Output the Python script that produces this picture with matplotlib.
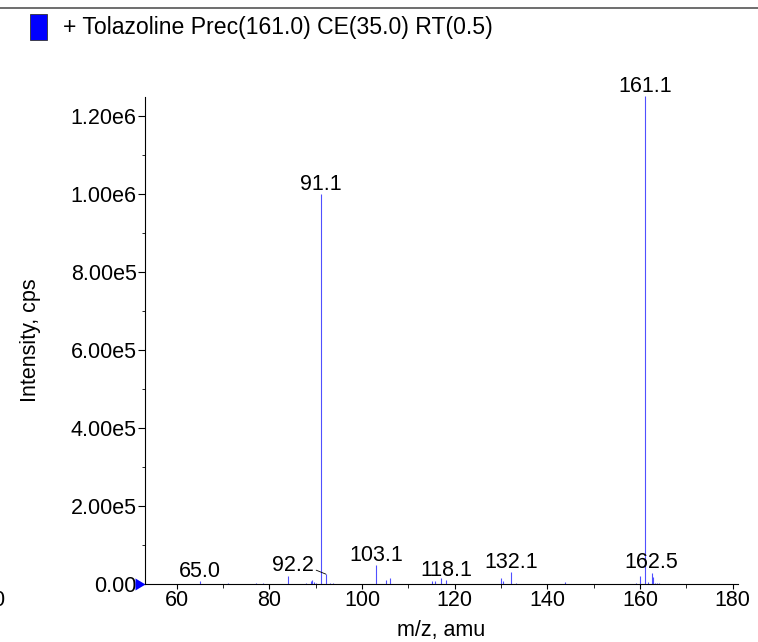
import matplotlib
matplotlib.use('Agg')
import matplotlib.pyplot as plt
from matplotlib.path import Path
from matplotlib.patches import Rectangle
from matplotlib.lines import Line2D
import numpy as np

plt.rcParams['font.family'] = ['Liberation Sans', 'DejaVu Sans']

# spectrum peaks (m/z, intensity in cps)
mz = [65.0, 71.0, 77.2, 78.7, 84.0, 86.0, 88.0, 88.9, 89.2, 89.7, 90.0,
      91.1, 92.2, 93.0, 93.8, 96.1, 103.1, 105.1, 106.1,
      115.2, 115.8, 117.1, 118.1, 130.1, 130.4, 132.1, 133.2, 134.1,
      143.9, 159.1, 160.1, 161.1, 161.8, 162.5, 162.8, 163.3, 163.7,
      164.1, 164.6, 165.0, 166.0, 168.0, 169.2, 170.3]
intensity = [9000, 3000, 3000, 3500, 20000, 2000, 4500, 8000, 10000, 7000, 4000,
             1.0e6, 26000, 3000, 2500, 2000, 49000, 10000, 17000,
             8000, 8000, 16000, 11000, 16000, 8000, 31000, 4000, 2000,
             5000, 3000, 20000, 1.25e6, 6000, 30000, 19000, 4000, 3000,
             2500, 2000, 1500, 1000, 1000, 1500, 1000]

# labelled peaks
label_mz = [65.0, 91.1, 103.1, 118.1, 132.1, 161.1, 162.5]
label_txt = ['65.0', '91.1', '103.1', '118.1', '132.1', '161.1', '162.5']

y_ticks = [0, 2e5, 4e5, 6e5, 8e5, 1.0e6, 1.2e6]
y_tick_labels = ['0.00', '2.00e5', '4.00e5', '6.00e5', '8.00e5', '1.00e6', '1.20e6']
x_ticks = [60, 80, 100, 120, 140, 160, 180]

legend_text = '+ Tolazoline Prec(161.0) CE(35.0) RT(0.5)'

W, H = 758, 642
fig = plt.figure(figsize=(W / 100, H / 100), dpi=100)
ax = fig.add_axes([145 / W, 1 - 584.3 / H, (738 - 145) / W, (584.3 - 97) / H])

ax.vlines(mz, 0, intensity, colors='#5050ff', lw=0.8, clip_on=False)
ax.set_xlim(53.16, 181.15)
ax.set_ylim(0, 1.248e6)

for m, t in zip(label_mz, label_txt):
    h = intensity[mz.index(m)]
    ax.annotate(t, (m, h), xytext=(0, 3), textcoords='offset points',
                ha='center', va='baseline', fontsize=15.5, annotation_clip=False)

# offset label with leader line
ax.annotate('92.2', (92.2, intensity[mz.index(92.2)]), xytext=(-9, 2),
            textcoords='offset points', ha='right', va='baseline', fontsize=15.5,
            arrowprops=dict(arrowstyle='-', color='black', lw=0.6,
                            shrinkA=0, shrinkB=0, relpos=(1.0, 0.35)))

ax.spines['top'].set_visible(False)
ax.spines['right'].set_visible(False)
ax.set_xticks(x_ticks)
ax.set_xticks(np.arange(70, 181, 20), minor=True)
ax.set_yticks(y_ticks)
ax.set_yticklabels(y_tick_labels)
ax.set_yticks(np.arange(1e5, 1.25e6, 2e5), minor=True)
ax.tick_params(axis='both', which='major', labelsize=15.5)
ax.tick_params(axis='x', which='major', length=3.6, pad=0.5)
ax.tick_params(axis='x', which='minor', length=3.0)
ax.tick_params(axis='y', which='major', length=4.8, pad=1.2)
ax.tick_params(axis='y', which='minor', length=2.4)

ax.set_xlabel('m/z, amu', fontsize=15.5)
ax.set_ylabel('Intensity, cps', fontsize=15.5)
ax.xaxis.set_label_coords(0.5, -0.073)
ax.yaxis.set_label_coords(-0.1754, 0.5)

# baseline marker on the y axis
tri = Path([(0, 0), (-1, 0.6), (-1, -0.6), (0, 0)],
           [Path.MOVETO, Path.LINETO, Path.LINETO, Path.CLOSEPOLY])
ax.plot([53.16], [0], marker=tri, ms=14.4, color='#0000ff', mew=0, clip_on=False)

# header line and legend
fig.add_artist(Line2D([0, 1], [1 - 8 / H, 1 - 8 / H], color='#555555', lw=1.2))
fig.add_artist(Rectangle((30.4 / W, 1 - 39.6 / H), 16.5 / W, 26 / H,
                         facecolor='#0000ff', edgecolor='#333333', lw=0.6))
fig.text(63 / W, 1 - 34 / H, legend_text, fontsize=16.6, va='baseline')

# clipped tick label remnant at the left edge
fig.text(4 / W, 1 - 600 / H, '0', fontsize=15.5, ha='right', va='center')

fig.savefig('out.png', dpi=100)
